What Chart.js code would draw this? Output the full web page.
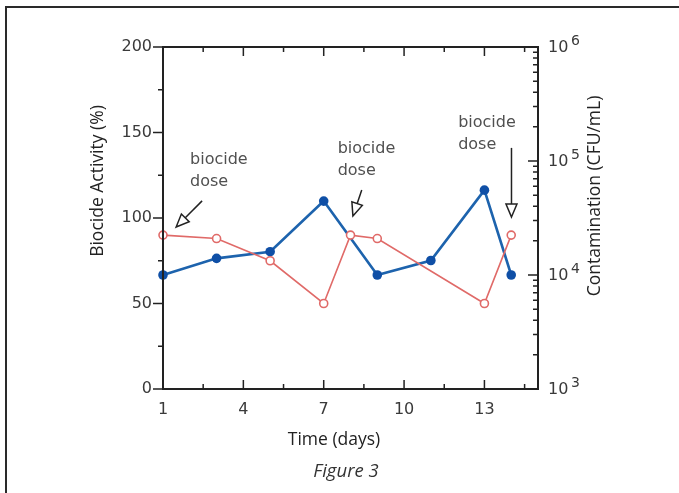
<!DOCTYPE html>
<html><head><meta charset="utf-8">
<script src="https://cdn.jsdelivr.net/npm/chart.js@4"></script>
<style>html,body{margin:0;padding:0;background:#fff;}#c{display:block;}</style>
</head><body>
<canvas id="c" width="679" height="493"></canvas>
<script>
// ---- data ----
const activityDays = [1, 3, 5, 7, 8, 9, 13, 14];
const activityValues = [90, 88, 75, 50, 90, 88, 50, 90];
const contaminationDays = [1, 3, 5, 7, 9, 11, 13, 14];
const contaminationValues = [10000, 14000, 16000, 44500, 10000, 13400, 55500, 10000];
const dayTicks = [1, 4, 7, 10, 13];
const dayMinorTicks = [2.5, 5.5, 8.5, 11.5, 14.5];
const activityTicks = [0, 50, 100, 150, 200];
const activityMinorTicks = [25, 75, 125, 175];
const contaminationExponents = [3, 4, 5, 6];
const annotationLines = ['biocide', 'dose'];
// dose arrows in data coordinates (day, activity %)
const doseArrowTails = [[2.46, 110], [8.42, 116.4], [14.01, 141]];
const doseArrowTips = [[1.49, 94.7], [8.09, 101.2], [14.01, 100.6]];
const doseTextAnchors = [[2.01, 131.6], [7.52, 138], [12.02, 153.2]];

const AXIS = '#222';
const TITLEFONT = '17.5px "Open Sans"';

function arrow(ctx, x1, y1, x2, y2) {
  const ang = Math.atan2(y2 - y1, x2 - x1);
  const L = 13, W = 5.5;
  const bx = x2 - L * Math.cos(ang), by = y2 - L * Math.sin(ang);
  ctx.beginPath();
  ctx.moveTo(x1, y1); ctx.lineTo(bx, by);
  ctx.stroke();
  ctx.beginPath();
  ctx.moveTo(x2, y2);
  ctx.lineTo(bx + W * Math.sin(ang), by - W * Math.cos(ang));
  ctx.lineTo(bx - W * Math.sin(ang), by + W * Math.cos(ang));
  ctx.closePath();
  ctx.fillStyle = '#fff';
  ctx.fill();
  ctx.stroke();
}

const decor = {
  id: 'decor',
  afterDraw(chart) {
    const ctx = chart.ctx;
    const {x, y, y2} = chart.scales;
    const a = chart.chartArea;
    ctx.save();
    // outer frame (top + left)
    ctx.strokeStyle = '#2a2a2a';
    ctx.lineWidth = 2;
    ctx.beginPath();
    ctx.moveTo(6, 493); ctx.lineTo(6, 7); ctx.lineTo(679, 7);
    ctx.stroke();

    // plot box
    ctx.strokeStyle = AXIS;
    ctx.lineWidth = 2;
    ctx.strokeRect(a.left, a.top, a.right - a.left, a.bottom - a.top);

    ctx.lineWidth = 1.5;
    ctx.beginPath();
    // left axis ticks (outward)
    activityTicks.forEach(v => { const p = y.getPixelForValue(v); ctx.moveTo(a.left - 10, p); ctx.lineTo(a.left, p); });
    activityMinorTicks.forEach(v => { const p = y.getPixelForValue(v); ctx.moveTo(a.left - 5, p); ctx.lineTo(a.left, p); });
    // bottom & top ticks (inward)
    dayTicks.forEach(v => { const p = x.getPixelForValue(v);
      ctx.moveTo(p, a.bottom); ctx.lineTo(p, a.bottom - 9);
      ctx.moveTo(p, a.top); ctx.lineTo(p, a.top + 9); });
    dayMinorTicks.forEach(v => { const p = x.getPixelForValue(v);
      ctx.moveTo(p, a.bottom); ctx.lineTo(p, a.bottom - 5);
      ctx.moveTo(p, a.top); ctx.lineTo(p, a.top + 5); });
    // right log ticks (inward)
    contaminationExponents.forEach((e, i) => {
      const base = Math.pow(10, e);
      const p = y2.getPixelForValue(base);
      ctx.moveTo(a.right - 10, p); ctx.lineTo(a.right, p);
      if (i < contaminationExponents.length - 1) {
        for (let m = 2; m <= 9; m++) {
          const q = y2.getPixelForValue(base * m);
          ctx.moveTo(a.right - 5, q); ctx.lineTo(a.right, q);
        }
      }
    });
    ctx.stroke();

    // right axis labels 10^n
    ctx.fillStyle = '#3a3a3a';
    ctx.textAlign = 'left';
    ctx.textBaseline = 'alphabetic';
    contaminationExponents.forEach(e => {
      const p = y2.getPixelForValue(Math.pow(10, e));
      ctx.font = '16px "DejaVu Sans"';
      ctx.fillText('10', a.right + 10, p + 5);
      ctx.font = '14px "DejaVu Sans"';
      ctx.fillText(String(e), a.right + 33, p - 2);
    });

    // axis titles
    ctx.fillStyle = '#222';
    ctx.font = TITLEFONT;
    ctx.textAlign = 'center';
    ctx.textBaseline = 'middle';
    ctx.save();
    ctx.translate(a.left - 65, 181);
    ctx.rotate(-Math.PI / 2);
    ctx.fillText('Biocide Activity (%)', 0, 0);
    ctx.restore();
    ctx.save();
    ctx.translate(a.right + 57, 196);
    ctx.rotate(-Math.PI / 2);
    ctx.fillText('Contamination (CFU/mL)', 0, 0);
    ctx.restore();
    ctx.fillText('Time (days)', 334, 440);
    ctx.font = 'italic 18.5px "Open Sans"';
    ctx.fillStyle = '#333';
    ctx.fillText('Figure 3', 346, 472);

    // annotations
    ctx.font = '16px "DejaVu Sans"';
    ctx.fillStyle = '#505050';
    ctx.textAlign = 'left';
    ctx.textBaseline = 'alphabetic';
    doseTextAnchors.forEach(t => {
      const px = x.getPixelForValue(t[0]), py = y.getPixelForValue(t[1]);
      annotationLines.forEach((s, k) => ctx.fillText(s, px, py + k * 22));
    });
    ctx.strokeStyle = '#222';
    ctx.lineWidth = 1.5;
    doseArrowTails.forEach((t, i) => {
      const h = doseArrowTips[i];
      arrow(ctx, x.getPixelForValue(t[0]), y.getPixelForValue(t[1]),
                 x.getPixelForValue(h[0]), y.getPixelForValue(h[1]));
    });
    ctx.restore();
  }
};

new Chart(document.getElementById('c'), {
  type: 'line',
  data: {
    datasets: [
      {
        label: 'Biocide Activity',
        data: activityDays.map((d, i) => ({x: d, y: activityValues[i]})),
        yAxisID: 'y',
        borderColor: '#e06a68',
        borderWidth: 1.6,
        pointRadius: 4,
        pointBorderWidth: 1.6,
        pointBackgroundColor: '#fff',
        pointBorderColor: '#e06a68',
        tension: 0,
        clip: false
      },
      {
        label: 'Contamination',
        data: contaminationDays.map((d, i) => ({x: d, y: contaminationValues[i]})),
        yAxisID: 'y2',
        borderColor: '#1d63ad',
        borderWidth: 2.6,
        pointRadius: 4.8,
        pointBorderWidth: 0,
        pointBackgroundColor: '#0f4fa6',
        pointBorderColor: '#0f4fa6',
        tension: 0,
        clip: false
      }
    ]
  },
  options: {
    responsive: false,
    animation: false,
    devicePixelRatio: 1,
    layout: {padding: {top: 47, left: 0, right: 0, bottom: 0}},
    plugins: {legend: {display: false}, tooltip: {enabled: false}},
    scales: {
      x: {
        type: 'linear', min: 1, max: 15,
        afterBuildTicks: s => { s.ticks = dayTicks.map(v => ({value: v})); },
        afterFit: s => { s.height = 104; },
        grid: {display: false, drawTicks: false},
        border: {display: false},
        ticks: {font: {family: 'DejaVu Sans', size: 16}, color: '#3a3a3a', padding: 11, maxRotation: 0}
      },
      y: {
        type: 'linear', position: 'left', min: 0, max: 200,
        afterBuildTicks: s => { s.ticks = activityTicks.map(v => ({value: v})); },
        afterFit: s => { s.width = 163; },
        grid: {display: false, drawTicks: false},
        border: {display: false},
        ticks: {font: {family: 'DejaVu Sans', size: 16}, color: '#3a3a3a', padding: 11}
      },
      y2: {
        type: 'logarithmic', position: 'right', min: 1000, max: 1000000,
        afterFit: s => { s.width = 141; },
        grid: {display: false, drawTicks: false},
        border: {display: false},
        ticks: {display: false}
      }
    }
  },
  plugins: [decor]
});
</script>
</body></html>
